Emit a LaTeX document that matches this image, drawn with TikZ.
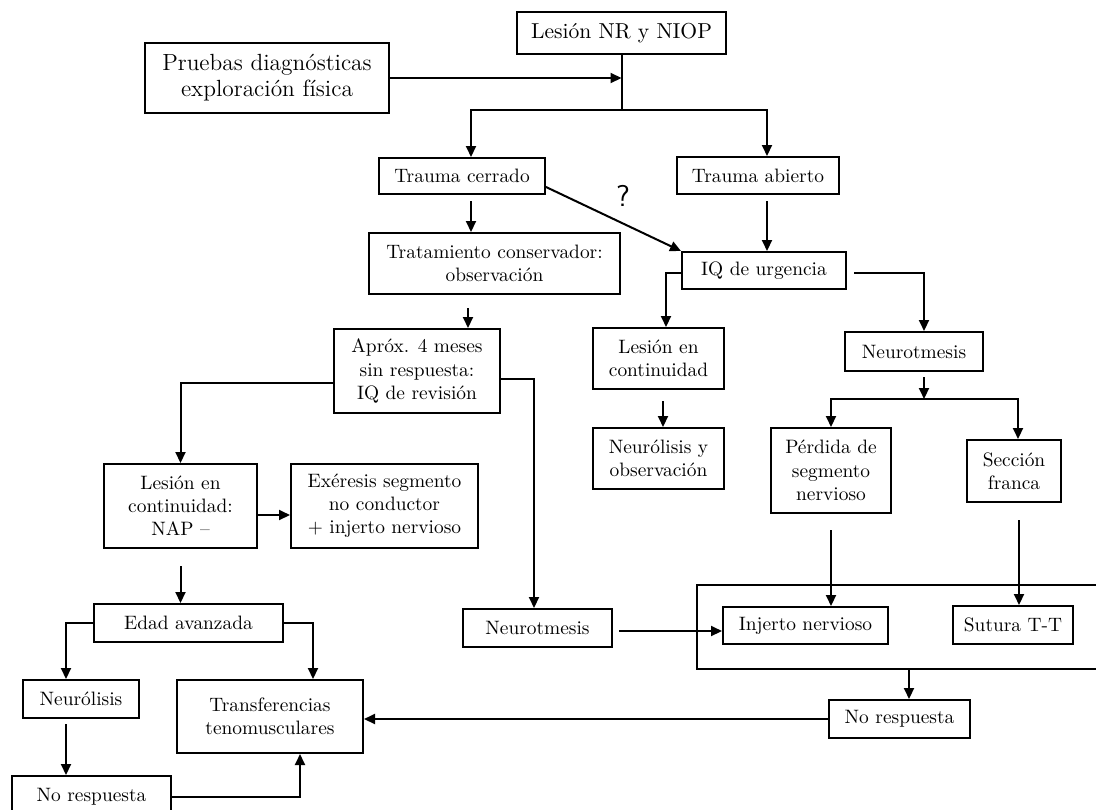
\documentclass[tikz,border=0pt]{standalone}
\usepackage{fontspec}
\usepackage{tikz}
\usetikzlibrary{arrows.meta,positioning}

\begin{document}
\begin{tikzpicture}[
    x=0.5pt, y=-0.5pt,
    box/.style={rectangle, draw, line width=1pt, align=center, inner sep=0pt, font=\fontsize{9.7}{11.6}\selectfont},
    bigbox/.style={box, font=\fontsize{11.7}{13}\selectfont},
    topbox/.style={box, font=\fontsize{10.8}{13}\selectfont},
    frame/.style={rectangle, draw, line width=1pt, inner sep=0pt},
    arrow/.style={-{Triangle[length=5.5pt,width=5pt]}, line width=1pt},
    link/.style={line width=1pt}
]
\clip (0,0) rectangle (1096,809);

% Top
\node[topbox, minimum width=104.5pt, minimum height=21pt] (lesion_nr) at (621.5,33) {Lesión NR y NIOP};
\node[bigbox, minimum width=122pt, minimum height=35pt] (pruebas) at (267,78) {Pruebas diagnósticas\\exploración física};
\node[box, minimum width=83pt, minimum height=18pt] (trauma_cerrado) at (462,176) {Trauma cerrado};
\node[box, minimum width=81pt, minimum height=18.5pt] (trauma_abierto) at (758,175.5) {Trauma abierto};
\node[font=\sffamily\fontsize{15}{15}\selectfont] (duda) at (623,196) {?};

% Closed trauma
\node[box, minimum width=125.5pt, minimum height=30.5pt] (tto_conservador) at (494.5,263.5) {Tratamiento conservador:\\observación};
\node[box, minimum width=83pt, minimum height=42pt] (aprox_revision) at (417,371) {Apróx. 4 meses\\sin respuesta:\\IQ de revisión};
\node[box, minimum width=76.5pt, minimum height=42pt] (lesion_nap) at (180.5,506) {Lesión en\\continuidad:\\NAP --};
\node[box, minimum width=93.5pt, minimum height=42pt] (exeresis) at (384.5,506) {Exéresis segmento\\no conductor\\+ injerto nervioso};
\node[box, minimum width=94.5pt, minimum height=19pt] (edad) at (188.5,623) {Edad avanzada};
\node[box, minimum width=58pt, minimum height=19pt] (neurolisis) at (81,699) {Neurólisis};
\node[box, minimum width=93pt, minimum height=36.5pt] (transferencias) at (270,716.5) {Transferencias\\tenomusculares};
\node[box, minimum width=79.5pt, minimum height=21pt] (no_resp_left) at (91.5,797) {No respuesta};
\node[box, minimum width=74.5pt, minimum height=19pt] (neurotmesis_b) at (537.5,628) {Neurotmesis};

% Open trauma
\node[box, minimum width=82pt, minimum height=18.5pt] (iq_urgencia) at (764,270.5) {IQ de urgencia};
\node[box, minimum width=65.5pt, minimum height=30.5pt] (lesion_cont) at (658.5,358.5) {Lesión en\\continuidad};
\node[box, minimum width=65.5pt, minimum height=30.5pt] (neurolisis_obs) at (658.5,458.5) {Neurólisis y\\observación};
\node[box, minimum width=69pt, minimum height=19.5pt] (neurotmesis_a) at (914,351.5) {Neurotmesis};
\node[box, minimum width=60pt, minimum height=42.5pt] (perdida) at (831,470.5) {Pérdida de\\segmento\\nervioso};
\node[box, minimum width=47pt, minimum height=31pt] (seccion) at (1014,471) {Sección\\franca};

% Repair
\node[frame, minimum width=201.5pt, minimum height=42pt] (reparacion) at (898.5,627) {};
\node[box, minimum width=82.5pt, minimum height=18.5pt] (injerto) at (805.5,625.5) {Injerto nervioso};
\node[box, minimum width=60pt, minimum height=19pt] (sutura) at (1013,625) {Sutura T-T};
\node[box, minimum width=70.5pt, minimum height=19pt] (no_resp_right) at (899.5,719) {No respuesta};

% Arrows
\coordinate (split_top) at (621.5,110);
\draw[arrow] (pruebas.east) -- (pruebas.east -| lesion_nr.south);
\draw[link] (lesion_nr.south) -- (split_top);
\draw[arrow] (split_top) -| ([xshift=4.5pt]trauma_cerrado.north);
\draw[arrow] (split_top) -| ([xshift=4.5pt]trauma_abierto.north);
\draw[arrow, shorten <=3pt] ([xshift=4.5pt]trauma_cerrado.south) -- ([xshift=4.5pt]trauma_cerrado.south |- tto_conservador.north);
\draw[arrow] ([yshift=-5.5pt]trauma_cerrado.east) -- (iq_urgencia.north west);
\draw[arrow, shorten <=3pt] ([xshift=4.5pt]trauma_abierto.south) -- ([xshift=4.5pt]trauma_abierto.south |- iq_urgencia.north);
\draw[arrow, shorten <=6.5pt] ([xshift=25.5pt]aprox_revision.north |- tto_conservador.south) -- ([xshift=25.5pt]aprox_revision.north);
\draw[arrow] ([yshift=-6pt]aprox_revision.west) -| (lesion_nap.north);
\draw[arrow] ([yshift=-4pt]aprox_revision.east) -| ([xshift=-1.75pt]neurotmesis_b.north);
\draw[arrow] ([yshift=-4.5pt]lesion_nap.east) -- ([yshift=-4.5pt]exeresis.west);
\draw[arrow, shorten <=8.5pt] (lesion_nap.south) -- (lesion_nap.south |- edad.north);
\draw[arrow] (edad.west) -| ([xshift=-7.5pt]neurolisis.north);
\draw[arrow] (edad.east) -| ([xshift=21.5pt]transferencias.north);
\draw[arrow, shorten <=2.5pt] ([xshift=-7.5pt]neurolisis.south) -- ([xshift=-7.5pt]neurolisis.south |- no_resp_left.north);
\draw[arrow] (no_resp_left.east) -| ([xshift=15pt]transferencias.south);
\draw[arrow] (no_resp_right.west) -- (no_resp_right.west -| transferencias.east);
\draw[arrow] ([yshift=-1.25pt]iq_urgencia.west) -| ([xshift=3.75pt]lesion_cont.north);
\draw[arrow, shorten <=3.5pt] ([yshift=-1.25pt]iq_urgencia.east) -| ([xshift=5pt]neurotmesis_a.north);
\draw[arrow, shorten <=5.5pt] ([xshift=2.25pt]lesion_cont.south) -- ([xshift=2.25pt]lesion_cont.south |- neurolisis_obs.north);
\coordinate (split_neuro) at (924,399);
\draw[arrow, shorten <=2.5pt] ([xshift=5pt]neurotmesis_a.south) -- (split_neuro);
\draw[arrow] (split_neuro) -| (perdida.north);
\draw[arrow] (split_neuro) -| ([xshift=2pt]seccion.north);
\draw[arrow, shorten <=8pt] (perdida.south) -- (perdida.south |- injerto.north);
\draw[arrow, shorten <=8.5pt] ([xshift=2.5pt]seccion.south) -- ([xshift=2.5pt]seccion.south |- sutura.north);
\draw[arrow, shorten <=3pt] ([yshift=-1.5pt]neurotmesis_b.east) -- ([yshift=-1.5pt]neurotmesis_b.east -| injerto.west);
\draw[arrow] ([xshift=5.25pt]reparacion.south) -- ([xshift=5.25pt]reparacion.south |- no_resp_right.north);
\end{tikzpicture}
\end{document}
